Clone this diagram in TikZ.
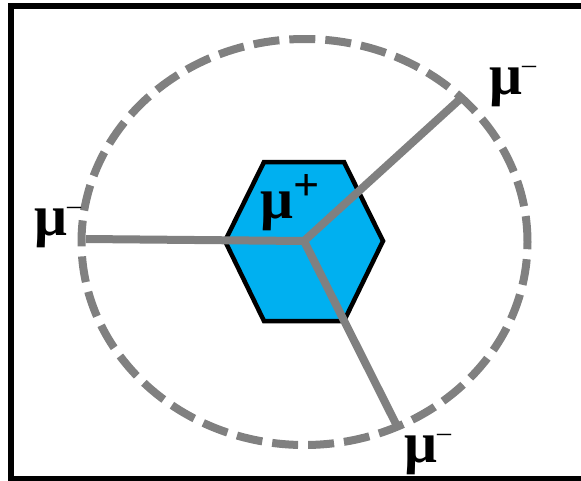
\documentclass[tikz,border=0pt]{standalone}
\usepackage{fontspec}
\setmainfont{Liberation Serif}
\usepackage{xcolor}

\definecolor{hexblue}{RGB}{0,176,240}
\definecolor{trackgray}{RGB}{128,128,128}

\newcommand{\supminus}{\raisebox{21pt}{\mdseries\fontsize{28}{28}\selectfont \textendash}}
\newcommand{\supplus}{\raisebox{18pt}{\fontsize{46}{46}\selectfont +}}

\begin{document}
\begin{tikzpicture}[x=1pt,y=-1pt,
  muon/.style={inner sep=0pt, anchor=base west, font=\fontsize{58}{58}\selectfont\bfseries},
  track/.style={draw=trackgray, line width=8pt}]

% frame (right side runs off the page)
\useasboundingbox (0,0) rectangle (581,480);
\clip (0,0) rectangle (581,480);
\draw[line width=6pt] (11,6) rectangle (600,479);

% dashed circle
\draw[trackgray, line width=8pt, dash pattern=on 26pt off 10pt]
  (304.5,242) ellipse [x radius=223pt, y radius=203pt];

% hexagon
\filldraw[fill=hexblue, line width=4.5pt]
  (225,241) -- (264,162) -- (344,162) -- (383,241) -- (344,321) -- (264,321) -- cycle;

% tracks
\coordinate (c) at (304,241);
\coordinate (end1) at (86,239);
\coordinate (end2) at (459,100);
\coordinate (end3) at (396,424);
\draw[track] (end1) -- (c) -- (end2);
\draw[track] (c) -- (end3);

% labels
\node[muon] (muplus) at (260,218) {μ\supplus};
\node[muon] (muleft) at (34,235) {μ\supminus};
\node[muon] (muright) at (489,94) {μ\supminus};
\node[muon] (mubottom) at (404,462) {μ\supminus};

\end{tikzpicture}
\end{document}
